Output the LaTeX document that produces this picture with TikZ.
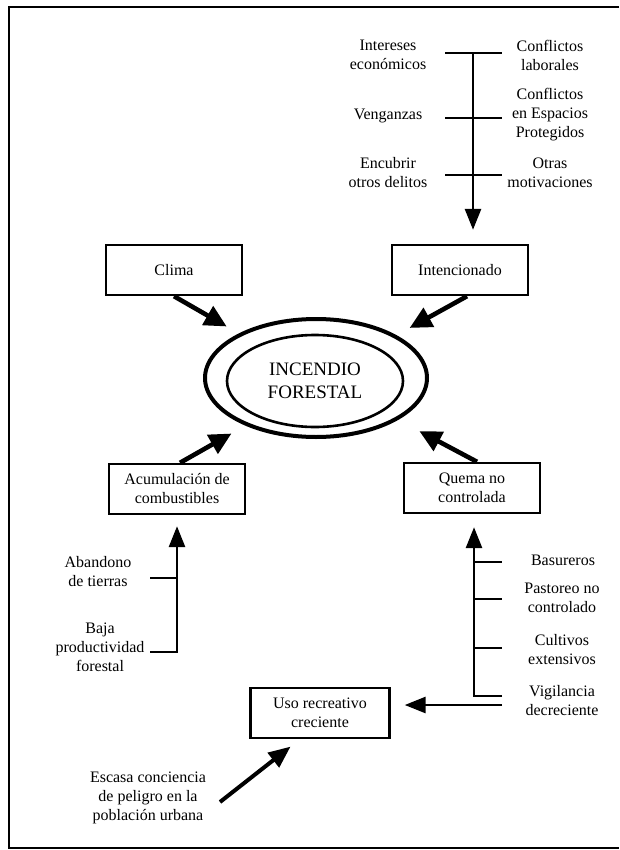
\documentclass[tikz,border=0pt]{standalone}
\usepackage{fontspec}
\setmainfont{Liberation Serif}
\usetikzlibrary{arrows.meta,shapes.geometric}

\begin{document}
\begin{tikzpicture}[
    x=1pt,y=-1pt,
    font=\fontsize{16}{19}\selectfont,
    box/.style={draw,line width=2.4pt,minimum width=136pt,minimum height=50pt,
      align=center,inner sep=2pt},
    lbl/.style={align=center,inner sep=1pt},
    ring/.style={ellipse,draw,inner sep=0pt},
    push/.style={line width=4.6pt,-{Triangle[length=22pt,width=21pt]}},
    feed/.style={line width=2.8pt,-{Triangle[length=21pt,width=16pt]}},
    bar/.style={line width=2.8pt},
    frame/.style={line width=2.6pt}
  ]
    \useasboundingbox (0,0) rectangle (619,850);
    \draw[frame] (619,7) -- (9,7) -- (9,848) -- (619,848);

    % centre
    \node[ring,line width=4pt,minimum width=222pt,minimum height=118pt] (fire) at (316,378) {};
    \node[ring,line width=2.6pt,minimum width=176pt,minimum height=92pt,
      align=center,font=\fontsize{19}{23}\selectfont] (core) at (315,381) {INCENDIO\\FORESTAL};

    % causes
    \node[box] (clima) at (174,270) {Clima};
    \node[box] (intenc) at (460,270) {Intencionado};
    \node[box] (acum) at (177,489) {Acumulación de\\combustibles};
    \node[box] (quema) at (472,488) {Quema no\\controlada};
    \node[box,minimum width=139pt] (uso) at (320,713) {Uso recreativo\\creciente};

    \draw[push,shorten >=14pt] (clima.south) -- (fire.150);
    \draw[push,shorten >=15pt] ([xshift=7pt]intenc.south) -- (fire.28);
    \draw[push,shorten >=16pt] ([xshift=3pt]acum.north) -- (fire.214);
    \draw[push,shorten >=24pt] ([xshift=5pt]quema.north) -- (fire.-27);

    % motivaciones
    \node[lbl] (intereses) at (388,55) {Intereses\\económicos};
    \node[lbl] (venganzas) at (388,116) {Venganzas};
    \node[lbl] (encubrir) at (388,173) {Encubrir\\otros delitos};
    \node[lbl] (laborales) at (550,55) {Conflictos\\laborales};
    \node[lbl] (espacios) at (550,115) {Conflictos\\en Espacios\\Protegidos};
    \node[lbl] (otras) at (550,173) {Otras\\motivaciones};
    \coordinate (mtop) at (473,53);
    \draw[bar] (445,53) -- (502,53);
    \draw[bar] (445,118) -- (502,118);
    \draw[bar] (445,175) -- (502,175);
    \draw[feed,shorten >=14pt] (mtop) -- (mtop |- intenc.north);

    % combustibles
    \node[lbl] (abandono) at (98,572) {Abandono\\de tierras};
    \node[lbl] (baja) at (100,647) {Baja\\productividad\\forestal};
    \coordinate (abase) at (177,652);
    \draw[bar] (150,578) -- (177,578);
    \draw[feed,shorten >=11pt] (150,652) -- (abase) -- (abase |- acum.south);

    % quemas
    \node[lbl] (basureros) at (563,560) {Basureros};
    \node[lbl] (pastoreo) at (562,598) {Pastoreo no\\controlado};
    \node[lbl] (cultivos) at (562,650) {Cultivos\\extensivos};
    \node[lbl] (vigilancia) at (562,701) {Vigilancia\\decreciente};
    \coordinate (qbase) at (474,696);
    \draw[bar] (474,562) -- (502,562);
    \draw[bar] (474,599) -- (502,599);
    \draw[bar] (474,648) -- (502,648);
    \draw[feed,shorten >=13pt] (502,696) -- (qbase) -- (qbase |- quema.south);

    % uso recreativo
    \coordinate (vstart) at (502,705);
    \draw[feed,shorten >=14pt] (vstart) -- (vstart -| uso.east);
    \node[lbl] (escasa) at (148,798) {Escasa conciencia\\de peligro en la\\población urbana};
    \coordinate (escfoot) at (220,802);
    \draw[line width=4pt,-{Triangle[length=22pt,width=18pt]},shorten >=12pt]
      (escfoot) -- ([xshift=-20pt]uso.south);
  \end{tikzpicture}
\end{document}
